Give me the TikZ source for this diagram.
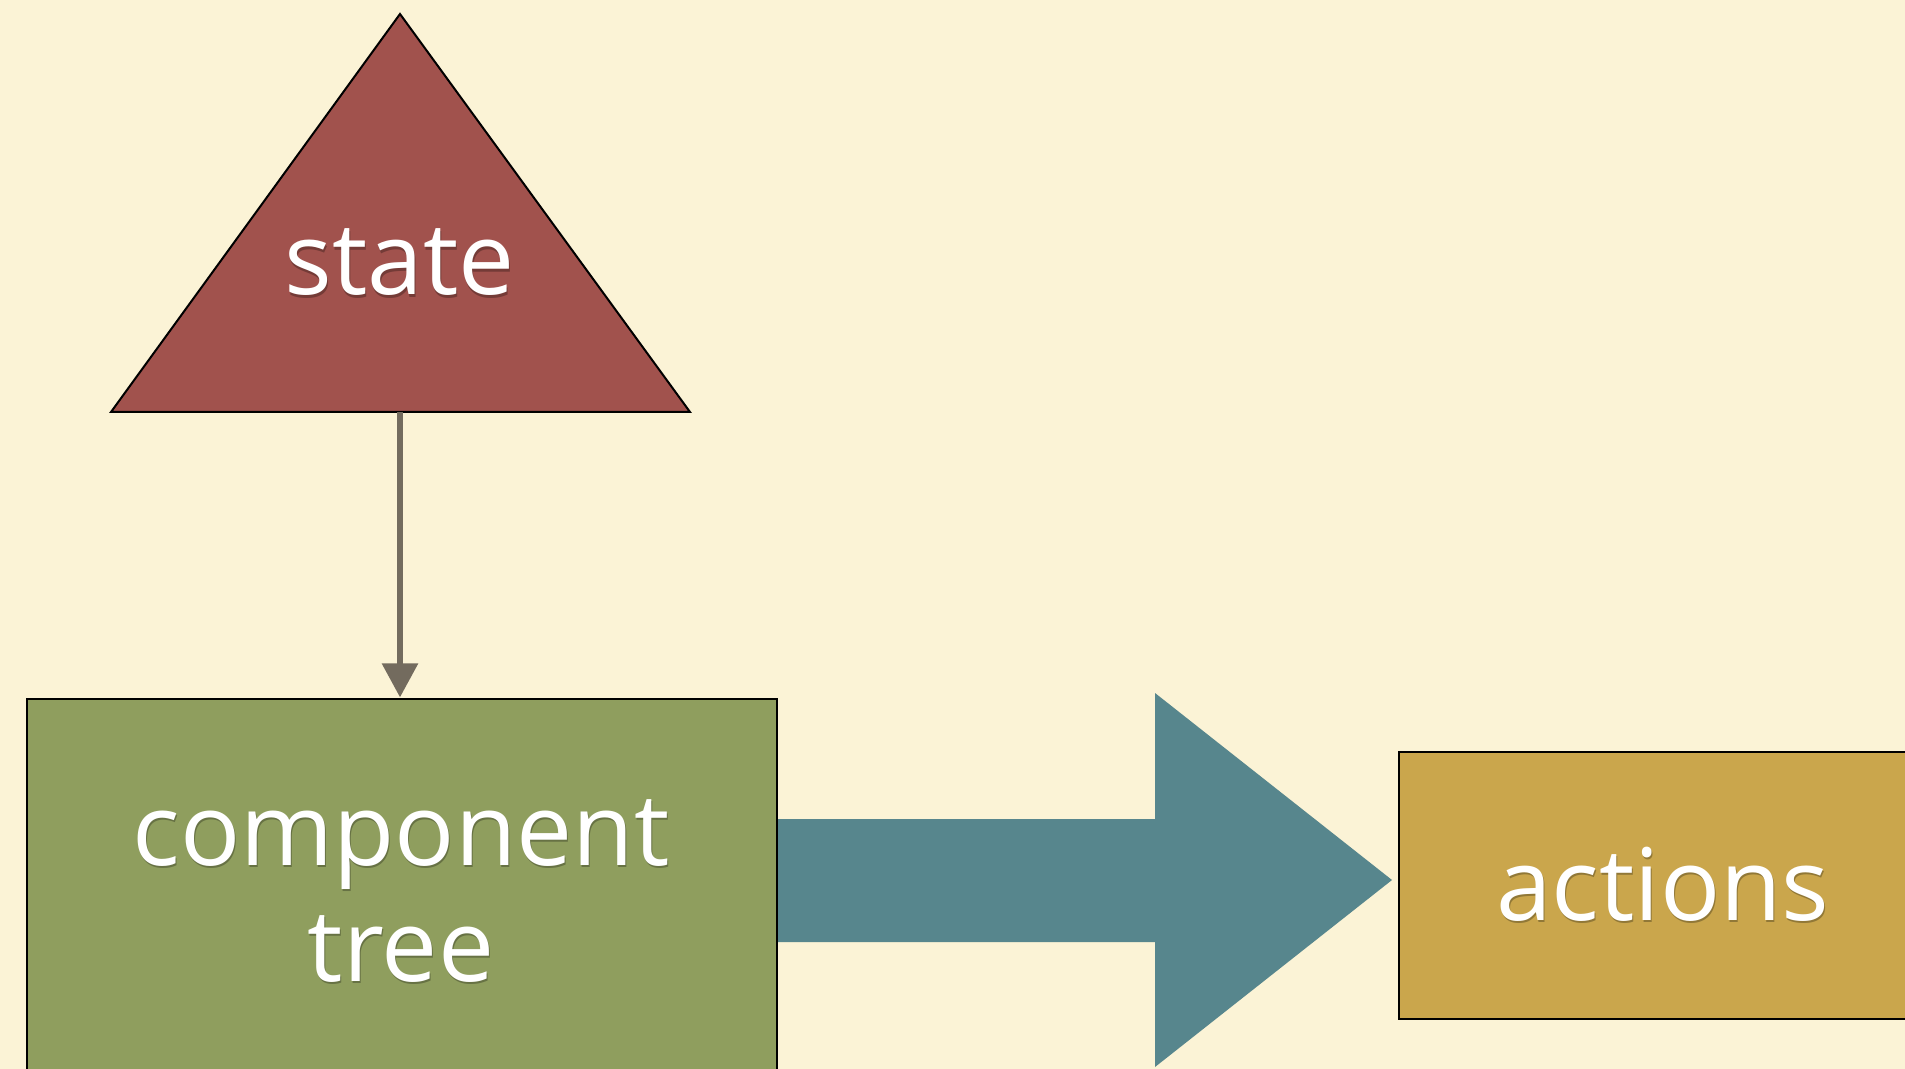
\documentclass[tikz,border=0pt]{standalone}
\usepackage{fontspec}
\setmainfont{Open Sans}
\usetikzlibrary{arrows.meta}

\definecolor{paper}{RGB}{251,243,214}
\definecolor{statered}{RGB}{161,82,77}
\definecolor{treegreen}{RGB}{143,158,94}
\definecolor{flowblue}{RGB}{87,134,141}
\definecolor{actiongold}{RGB}{202,166,76}
\definecolor{linkgray}{RGB}{115,107,94}

% white label text with a faint drop shadow
\newcommand\softshadow[2]{\makebox[0pt][l]{\kern0.5pt\raisebox{-1.1pt}{\textcolor{#1!72!black}{#2}}}#2}

\tikzset{
  shapebox/.style={draw=black, line width=1pt},
  labeltext/.style={text=white, inner sep=0pt, font=\fontsize{50}{58}\selectfont},
  linkarrow/.style={draw=linkgray, line width=3pt,
    -{Triangle[length=17pt, width=17.5pt]}, shorten >=0.3pt},
}

\begin{document}
\begin{tikzpicture}[x=0.5pt, y=-0.5pt]
  \useasboundingbox (0,0) rectangle (1905,1069);
  \clip (0,0) rectangle (1905,1069);
  \fill[paper] (0,0) rectangle (1905,1069);

  % state triangle
  \coordinate (apex) at (400,14);
  \coordinate (baseL) at (111,412);
  \coordinate (baseR) at (690,412);
  \coordinate (stateBase) at (400,412);
  \filldraw[shapebox, fill=statered, line join=miter] (apex) -- (baseR) -- (baseL) -- cycle;
  \node[labeltext, anchor=base] (stateLabel) at (400,295) {\softshadow{statered}{state}};

  % component tree box, running off the bottom edge
  \node[shapebox, fill=treegreen, anchor=north west, inner sep=0pt,
        minimum width=375pt, minimum height=260pt] (tree) at (26,698) {};
  \node[labeltext, align=center, anchor=south, text depth=0pt] (treeLabel) at (401,982)
    {\softshadow{treegreen}{component}\\\softshadow{treegreen}{tree}};

  % actions box, running off the right edge
  \node[shapebox, fill=actiongold, anchor=north west, inner sep=0pt,
        minimum width=260pt, minimum height=133.5pt] (actions) at (1398,751) {};
  \node[labeltext, anchor=base] (actionsLabel) at (1663,920) {\softshadow{actiongold}{actions}};

  % state feeds the component tree
  \draw[linkarrow] (stateBase) -- (stateBase |- tree.north);

  % broad arrow from the component tree to the actions
  \fill[flowblue] (tree.east |- 0,819) -- (1155,819) -- (1155,693)
     -- (1392,880) -- (1155,1067) -- (1155,942) -- (tree.east |- 0,942) -- cycle;
\end{tikzpicture}
\end{document}
